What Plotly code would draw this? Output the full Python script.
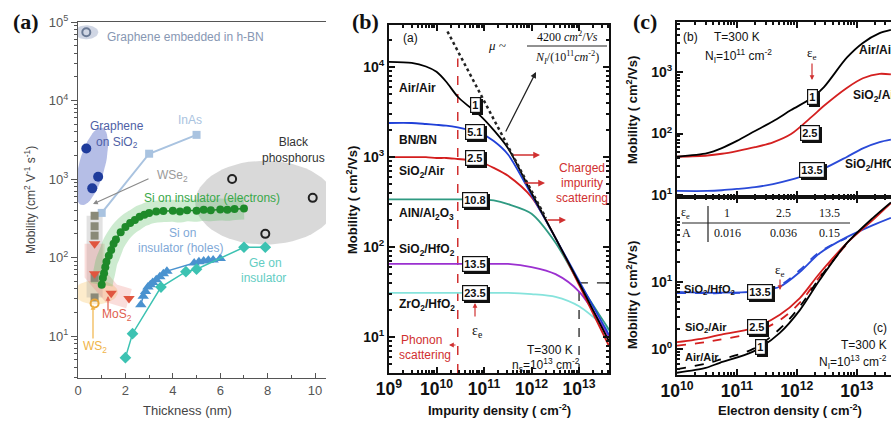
import numpy as np
import plotly.graph_objects as go

W, H = 891, 422
def fx(px): return px / W
def fy(py): return 1 - py / H

# ---------------- Panel (a) data ----------------
hbn_t = [0.35]; hbn_mu = [74000]
gr_sio2_t = [0.35, 0.85, 0.6]; gr_sio2_mu = [2450, 1070, 760]
inas_t = [1.0, 3.0, 5.0]; inas_mu = [370, 2100, 3650]
wse2_t = [0.7, 0.7, 0.7, 0.7, 0.7]; wse2_mu = [340, 250, 190, 55, 31]
mos2_t = [0.7, 0.7, 1.4, 2.15]; mos2_mu = [150, 62, 35, 30]
ws2_t = [0.7]; ws2_mu = [26]
sie_t = [1.0, 1.05, 1.1, 1.15, 1.2, 1.3, 1.4, 1.5, 1.6, 1.8, 2.0, 2.2, 2.4, 2.6, 2.8, 3.0,
         3.3, 3.6, 4.0, 4.3, 4.6, 5.0, 5.3, 5.6, 6.0, 6.3, 6.6, 7.0]
sie_mu = [45, 55, 63, 75, 88, 105, 125, 150, 170, 210, 245, 275, 300, 330, 350, 370,
          385, 390, 395, 385, 400, 395, 405, 400, 410, 405, 415, 420]
sih_t = [2.65, 2.75, 2.85, 2.95, 3.05, 3.15, 3.3, 3.45, 3.6, 3.75, 4.9, 5.1, 5.3, 5.5, 5.7, 6.0]
sih_mu = [25, 32, 37, 42, 45, 48, 52, 57, 62, 67, 85, 88, 90, 92, 93, 97]
ge_t = [2.0, 2.3, 3.5, 4.55, 5.0, 7.0, 7.9]; ge_mu = [5.3, 10.7, 42, 66, 71, 135, 135]
bp_t = [6.5, 7.9, 9.9]; bp_mu = [1000, 200, 575]

# ---------------- Panel (b) data ----------------
nI = [1e9, 3e9, 6e9, 1e10, 1.6e10, 2.8e10, 5e10, 8.3e10, 1.6e11, 3.2e11, 1e12, 3.2e12, 1e13, 4.3e13]
mu_air = [11500, 11200, 10200, 8900, 6900, 4700, 3600, 2900, 2000, 1260, 400, 126, 40, 8.9]
mu_bn = [2400, 2400, 2340, 2290, 2240, 2140, 2000, 1860, 1510, 1070, 380, 126, 42, 10.5]
mu_sio2air = [1000, 1000, 1000, 980, 980, 955, 930, 890, 760, 620, 360, 126, 38, 7.9]
mu_aln = [340, 340, 340, 340, 340, 340, 340, 340, 330, 300, 235, 112, 40, 12]
mu_sio2hfo2 = [65, 65, 65, 65, 65, 65, 65, 65, 65, 65, 60, 50, 32, 10]
mu_zro2 = [31, 31, 31, 31, 31, 31, 31, 31, 31, 31, 30, 28, 22, 11.7]
dot_n = [1.7e10, 2e12]; dot_mu = [25000, 210]
phonon_n = [2.8e10, 2.8e10]; phonon_mu = [3.98, 12500]
guide_n = [1e13, 1e13, 4.3e13]; guide_mu = [3.98, 40, 40]

# ---------------- Panel (c) data ----------------
ne_top = [1e10, 3.2e10, 5.6e10, 1e11, 2e11, 4e11, 8e11, 1.8e12, 2.8e12, 6.8e12, 1.26e13, 2.4e13, 3.7e13]
top_air = [42, 48, 58, 76, 110, 158, 240, 380, 560, 1700, 2950, 4250, 4800]
top_sio2air = [42, 44, 47, 52, 60, 72, 98, 190, 280, 550, 790, 930, 910]
top_sio2hfo2 = [11.7, 11.7, 12, 12.6, 13.5, 15.1, 17.8, 22.9, 26.9, 41.7, 57.5, 72.4, 79.4]
ne_bot = [1e10, 3e10, 5.2e10, 1.86e11, 5.2e11, 1.12e12, 2.4e12, 6.8e12, 1.86e13, 3.7e13]
bot_air = [0.44, 0.52, 0.62, 0.91, 1.74, 3.8, 10.7, 38, 91, 155]
bot_sio2air = [1.26, 1.45, 1.62, 2.04, 3.24, 5.75, 13.5, 38, 85, 151]
bot_sio2hfo2 = [7.1, 6.9, 6.9, 7.2, 8.5, 14.1, 26.9, 46.8, 70.8, 91.2]
ne_fit = ne_bot[:8]
fit_air = [0.5, 0.6, 0.69, 1.0, 2.0, 4.3, 11.5, 38]
fit_sio2air = [1.12, 1.26, 1.38, 1.74, 2.7, 4.9, 12, 37]
fit_sio2hfo2 = [6.8, 6.8, 6.8, 7.1, 8.9, 15.1, 28.2, 45.7]
table_eps = ["1", "2.5", "13.5"]; table_A = ["0.016", "0.036", "0.15"]

# tick positions / labels
dec_exps = [-1, 0, 1, 2, 3, 4, 5]
dec_vals = [10.0 ** e for e in dec_exps]
dec_text = ["10<sup>%d</sup>" % e for e in dec_exps]
minor_vals = [k * 10.0 ** e for e in range(-1, 6) for k in range(2, 10)]

SANS = "Liberation Sans, Arial, sans-serif"
SERIF = "Liberation Serif, Times New Roman, serif"
fig = go.Figure()

def add(x, y, xa, ya, **kw):
    fig.add_trace(go.Scatter(x=x, y=y, xaxis=xa, yaxis=ya, showlegend=False, hoverinfo="skip", **kw))

def ellipse(ct, cmu, a_px, b_px, ang_deg, col):
    th = np.linspace(0, 2 * np.pi, 60)
    ang = np.radians(ang_deg)
    dx = a_px * np.cos(th) * np.cos(ang) - b_px * np.sin(th) * np.sin(ang)
    dy = a_px * np.cos(th) * np.sin(ang) + b_px * np.sin(th) * np.cos(ang)
    t = ct + dx / 23.7
    mu = cmu * 10 ** (dy / 78.5)
    add(list(t), list(mu), "x", "y", mode="lines", fill="toself", fillcolor=col, line=dict(width=0))

# ---- panel (a) shading ----
ellipse(0.35, 74000, 7, 12, 90, "rgba(150,165,195,0.45)")
ellipse(0.58, 1450, 40, 13, 75, "rgba(90,110,200,0.45)")
ellipse(7.9, 500, 70, 42, 0, "rgba(170,170,170,0.45)")
ellipse(0.75, 36, 12, 22, 90, "rgba(250,200,110,0.35)")
add(wse2_t, wse2_mu, "x", "y", mode="lines", line=dict(color="rgba(160,160,160,0.3)", width=16))
add(mos2_t, mos2_mu, "x", "y", mode="lines", line=dict(color="rgba(235,120,110,0.25)", width=20))
add(sie_t, sie_mu, "x", "y", mode="lines", line=dict(color="rgba(90,190,100,0.3)", width=22, shape="spline"))

# ---- panel (a) data marks ----
add(inas_t, inas_mu, "x", "y", mode="lines+markers", line=dict(color="#a9c3e0", width=2),
    marker=dict(symbol="square", size=8, color="#a9c3e0"))
add(wse2_t, wse2_mu, "x", "y", mode="markers", marker=dict(symbol="square", size=8, color="#8a8a78"))
add(mos2_t, mos2_mu, "x", "y", mode="markers", marker=dict(symbol="triangle-down", size=10, color="#e0553f"))
add(ws2_t, ws2_mu, "x", "y", mode="markers", marker=dict(symbol="circle-open", size=8, color="#e8a63a", line=dict(width=2)))
add(sie_t, sie_mu, "x", "y", mode="lines+markers", line=dict(color="#1e8a2a", width=1.5),
    marker=dict(size=8, color="#1e8a2a"))
add(sih_t, sih_mu, "x", "y", mode="lines+markers", line=dict(color="#4a92cf", width=1.5),
    marker=dict(symbol="triangle-up", size=10, color="#4a92cf"))
add(ge_t, ge_mu, "x", "y", mode="lines+markers", line=dict(color="#3cc2b2", width=1.5),
    marker=dict(symbol="diamond", size=9, color="#3cc2b2"))
add(bp_t, bp_mu, "x", "y", mode="markers", marker=dict(symbol="circle-open", size=8, color="#222", line=dict(width=2)))
add(gr_sio2_t, gr_sio2_mu, "x", "y", mode="markers", marker=dict(size=10, color="#1f3c9c"))
add(hbn_t, hbn_mu, "x", "y", mode="markers", marker=dict(symbol="circle-open", size=8, color="#6a7a95", line=dict(width=2)))

# ---- panel (b) ----
add(phonon_n, phonon_mu, "x2", "y2", mode="lines", line=dict(color="#d03030", width=1.5, dash="dash"))
add(guide_n, guide_mu, "x2", "y2", mode="lines", line=dict(color="#222", width=1.3, dash="dash"))
b_curves = [(mu_zro2, "#86e3dc"), (mu_sio2hfo2, "#9b30d0"), (mu_aln, "#2f9a82"),
            (mu_sio2air, "#d41e1e"), (mu_bn, "#2040d8"), (mu_air, "#000000")]
for yv, c in b_curves:
    add(nI, yv, "x2", "y2", mode="lines", line=dict(color=c, width=1.8, shape="spline", smoothing=0.8))
add(dot_n, dot_mu, "x2", "y2", mode="lines", line=dict(color="#222", width=2.5, dash="dot"))

# ---- panel (c) ----
for yv, c in [(top_sio2hfo2, "#2a4ad8"), (top_sio2air, "#d42020"), (top_air, "#000000")]:
    add(ne_top, yv, "x3", "y3", mode="lines", line=dict(color=c, width=1.8, shape="spline", smoothing=0.8))
for yv, c in [(fit_sio2hfo2, "#2a4ad8"), (fit_sio2air, "#d42020"), (fit_air, "#000000")]:
    add(ne_fit, yv, "x4", "y4", mode="lines", line=dict(color=c, width=1.8, dash="dash", shape="spline"))
for yv, c in [(bot_sio2hfo2, "#2a4ad8"), (bot_sio2air, "#d42020"), (bot_air, "#000000")]:
    add(ne_bot, yv, "x4", "y4", mode="lines", line=dict(color=c, width=1.8, shape="spline", smoothing=0.8))

# ---------------- axes ----------------
grey = "#555"
ax_a = dict(showgrid=False, zeroline=False, linecolor=grey, linewidth=1.2, tickcolor=grey,
            tickfont=dict(family=SANS, size=13, color=grey))
bold_font = dict(family=SANS, size=14, color="#111", weight="bold")
ax_b = dict(showgrid=False, zeroline=False, showline=True, linecolor="#111", linewidth=2,
            mirror="allticks", ticks="inside", ticklen=6, tickwidth=1.5, tickcolor="#111",
            tickfont=bold_font, type="log", dtick=1, exponentformat="power",
            minor=dict(ticks="inside", ticklen=3, tickcolor="#111", dtick="D1", showgrid=False))
ax_by = {**ax_b, "dtick": None, "tickmode": "array", "tickvals": dec_vals, "ticktext": dec_text,
         "minor": dict(ticks="inside", ticklen=3, tickcolor="#111", tickmode="array",
                       tickvals=minor_vals, showgrid=False)}

fig.update_layout(
    width=W, height=H, margin=dict(l=0, r=0, t=0, b=0, autoexpand=False),
    paper_bgcolor="white", plot_bgcolor="white",
    xaxis=dict(domain=[fx(78), fx(326)], range=[0, 10.46], anchor="y", showline=True, mirror=True,
               ticks="inside", ticklen=5, dtick=2, minor=dict(ticks="inside", ticklen=3, dtick=1, tickcolor=grey),
               **ax_a),
    yaxis=dict(domain=[fy(378), fy(22)], range=[0.465, 5], type="log", anchor="x", showline=True,
               ticks="outside", ticklen=6, tickmode="array", tickvals=dec_vals, ticktext=dec_text,
               minor=dict(ticks="outside", ticklen=3, tickmode="array", tickvals=minor_vals, tickcolor=grey),
               **ax_a),
    xaxis2=dict(domain=[fx(389), fx(609)], range=[9, 13.63], anchor="y2", **ax_b),
    yaxis2=dict(domain=[fy(373), fy(25)], range=[0.6, 4.47], anchor="x2", **ax_by),
    xaxis3=dict(domain=[fx(677), 1], range=[10, 13.57], anchor="y3", showticklabels=False, **ax_b),
    yaxis3=dict(domain=[fy(197), fy(22)], range=[0.97, 3.81], anchor="x3", **{**ax_by, "mirror": False}),
    xaxis4=dict(domain=[fx(677), 1], range=[10, 13.57], anchor="y4", **ax_b),
    yaxis4=dict(domain=[fy(375), fy(197)], range=[-0.39, 2.27], anchor="x4",
                **{**ax_by, "mirror": False, "tickvals": [1, 10], "ticktext": dec_text[1:3]}),
)

ann = []
def T(px, py, text, size=12, color="#111", bold=False, family=SANS, xanchor="center", angle=0, italic=False):
    ann.append(dict(x=fx(px), y=fy(py), xref="paper", yref="paper", text=text, showarrow=False,
                    xanchor=xanchor, yanchor="middle", textangle=angle,
                    font=dict(family=family, size=size, color=color, weight="bold" if bold else "normal",
                              style="italic" if italic else "normal")))

def box(px, py, text, size=11):
    ann.append(dict(x=fx(px), y=fy(py), xref="paper", yref="paper", text=text, showarrow=False,
                    xanchor="center", yanchor="middle",
                    xshift=2, yshift=-2, bgcolor="#111", bordercolor="#111", borderwidth=1.2, borderpad=1,
                    font=dict(family=SANS, size=size, color="#111", weight="bold")))
    ann.append(dict(x=fx(px), y=fy(py), xref="paper", yref="paper", text=text, showarrow=False,
                    xanchor="center", yanchor="middle",
                    bgcolor="white", bordercolor="#111", borderwidth=1.2, borderpad=1,
                    font=dict(family=SANS, size=size, color="#111", weight="bold")))

def arrow(hx, hy, tx, ty, color, width=1.5, head=2, size=1):
    ann.append(dict(x=fx(hx), y=fy(hy), xref="paper", yref="paper", text="", showarrow=True,
                    ax=tx - hx, ay=ty - hy, arrowcolor=color, arrowwidth=width, arrowhead=head,
                    arrowsize=size))

# panel letters
T(26, 22, "(a)", size=22, bold=True, family=SERIF)
T(365, 22, "(b)", size=22, bold=True, family=SERIF)
T(645, 22, "(c)", size=22, bold=True, family=SERIF)

# panel (a) texts
T(105, 37, "Graphene embedded in h-BN", size=12, color="#8797b3", xanchor="left")
T(117, 135, "Graphene<br>on SiO<sub>2</sub>", size=12, color="#4f5fa6")
T(190, 120, "InAs", size=12, color="#a9c3e0")
T(172, 176, "WSe<sub>2</sub>", size=12, color="#9a9a9a")
arrow(93, 204, 150, 178, "#8a8a8a", width=1.2, head=2, size=0.8)
T(293, 150, "Black<br>phosphorus", size=12, color="#333")
T(212, 198, "Si on insulator (electrons)", size=12, color="#3aa84a")
T(182, 233, "Si on", size=12, color="#7fa9d8")
T(180, 248, "insulator (holes)", size=12, color="#7fa9d8")
T(265, 263, "Ge on", size=12, color="#63cdc3")
T(263, 278, "insulator", size=12, color="#63cdc3")
T(117, 315, "MoS<sub>2</sub>", size=12, color="#e0604f")
arrow(108, 296, 108, 312, "#e0604f", width=1.2, head=2, size=0.8)
T(95, 347, "WS<sub>2</sub>", size=12, color="#f0b448")
arrow(93, 305, 93, 340, "#f0b448", width=1.2, head=2, size=0.8)
T(187, 410, "Thickness (nm)", size=13, color="#444")
T(30, 200, "Mobility (cm<sup>2</sup> V<sup>-1</sup> s<sup>-1</sup>)", size=12, color="#444", angle=-90)

# panel (b) texts
T(410, 38, "(a)", size=12)
T(397, 88, "Air/Air", size=12, bold=True, xanchor="left")
T(397, 140, "BN/BN", size=12, bold=True, xanchor="left")
T(397, 172, "SiO<sub>2</sub>/Air", size=12, bold=True, xanchor="left")
T(397, 214, "AlN/Al<sub>2</sub>O<sub>3</sub>", size=12, bold=True, xanchor="left")
T(397, 250, "SiO<sub>2</sub>/HfO<sub>2</sub>", size=12, bold=True, xanchor="left")
T(397, 305, "ZrO<sub>2</sub>/HfO<sub>2</sub>", size=12, bold=True, xanchor="left")
for py, t in [(105, "1"), (132, "5.1"), (158, "2.5"), (200, "10.8"), (264, "13.5"), (293, "23.5")]:
    box(475, py, t)
T(497, 45, "μ ~", size=13, family=SERIF, italic=True)
T(567, 36, "4200 <i>cm</i><sup>2</sup>/<i>Vs</i>", size=12, family=SERIF)
T(567, 57, "<i>N<sub>I</sub></i>/(10<sup>11</sup><i>cm</i><sup>-2</sup>)", size=12, family=SERIF)
arrow(536, 72, 505, 133, "#222", width=1.2, head=2, size=1)
T(582, 168, "Charged", size=12, color="#d03030")
T(582, 183, "impurity", size=12, color="#d03030")
T(582, 198, "scattering", size=12, color="#d03030")
arrow(540, 155, 512, 155, "#d03030", width=1.5, head=2, size=0.9)
arrow(545, 183, 523, 183, "#d03030", width=1.5, head=2, size=0.9)
arrow(566, 220, 546, 220, "#d03030", width=1.5, head=2, size=0.9)
T(421, 340, "Phonon", size=12, color="#d03030")
T(425, 355, "scattering", size=12, color="#d03030")
arrow(449, 345, 457, 345, "#d03030", width=1.2, head=2, size=0.8)
T(477, 331, "ε<sub>e</sub>", size=14, family=SERIF)
arrow(475, 303, 475, 318, "#d03030", width=1.2, head=2, size=0.8)
T(550, 350, "T=300 K", size=12)
T(546, 365, "n<sub>s</sub>=10<sup>13</sup> cm<sup>-2</sup>", size=12)
T(499, 410, "Impurity density ( cm<sup>-2</sup>)", size=13, bold=True)
T(352, 200, "Mobility ( cm<sup>2</sup>/Vs)", size=13, bold=True, angle=-90)

# panel (c) texts
T(690, 37, "(b)", size=12)
T(712, 37, "T=300 K", size=12, xanchor="left")
T(703, 56, "N<sub>I</sub>=10<sup>11</sup> cm<sup>-2</sup>", size=12, xanchor="left")
T(812, 53, "ε<sub>e</sub>", size=13, family=SERIF)
arrow(812, 80, 812, 62, "#d03030", width=1.2, head=2, size=0.8)
T(857, 50, "Air/Air", size=12, bold=True, xanchor="left")
T(851, 96, "SiO<sub>2</sub>/Air", size=12, bold=True, xanchor="left")
T(843, 165, "SiO<sub>2</sub>/HfO<sub>2</sub>", size=12, bold=True, xanchor="left")
box(812, 97, "1"); box(810, 133, "2.5"); box(812, 170, "13.5")
T(632, 110, "Mobility ( cm<sup>2</sup>/Vs)", size=13, bold=True, angle=-90)
T(632, 295, "Mobility ( cm<sup>2</sup>/Vs)", size=13, bold=True, angle=-90)
T(790, 410, "Electron density ( cm<sup>-2</sup>)", size=13, bold=True)
# table
T(685, 213, "ε<sub>e</sub>", size=12, family=SERIF)
T(686, 233, "A", size=12, family=SERIF)
for px, e, a in zip([727, 783, 829], table_eps, table_A):
    T(px, 213, e, size=12, family=SERIF)
    T(px, 233, a, size=12, family=SERIF)
T(682, 290, "SiO<sub>2</sub>/HfO<sub>2</sub>", size=11, bold=True, xanchor="left")
T(780, 270, "ε<sub>e</sub>", size=13, family=SERIF)
arrow(780, 290, 780, 278, "#d03030", width=1.2, head=2, size=0.8)
box(760, 292, "13.5")
T(683, 328, "SiO<sub>2</sub>/Air", size=11, bold=True, xanchor="left")
box(757, 327, "2.5")
T(683, 357, "Air/Air", size=11, bold=True, xanchor="left")
box(760, 347, "1")
T(880, 328, "(c)", size=12)
T(889, 345, "T=300 K", size=12, xanchor="right")
T(889, 362, "N<sub>I</sub>=10<sup>13</sup> cm<sup>-2</sup>", size=12, xanchor="right")

shapes = [
    dict(type="line", xref="paper", yref="paper", x0=fx(527), x1=fx(607), y0=fy(46), y1=fy(46),
         line=dict(color="#222", width=1)),
    dict(type="line", xref="paper", yref="paper", x0=fx(682), x1=fx(850), y0=fy(223), y1=fy(223),
         line=dict(color="#222", width=1.2)),
    dict(type="line", xref="paper", yref="paper", x0=fx(708), x1=fx(708), y0=fy(206), y1=fy(242),
         line=dict(color="#222", width=1.2)),
]
fig.update_layout(annotations=ann, shapes=shapes)
fig.write_html("out.html")
